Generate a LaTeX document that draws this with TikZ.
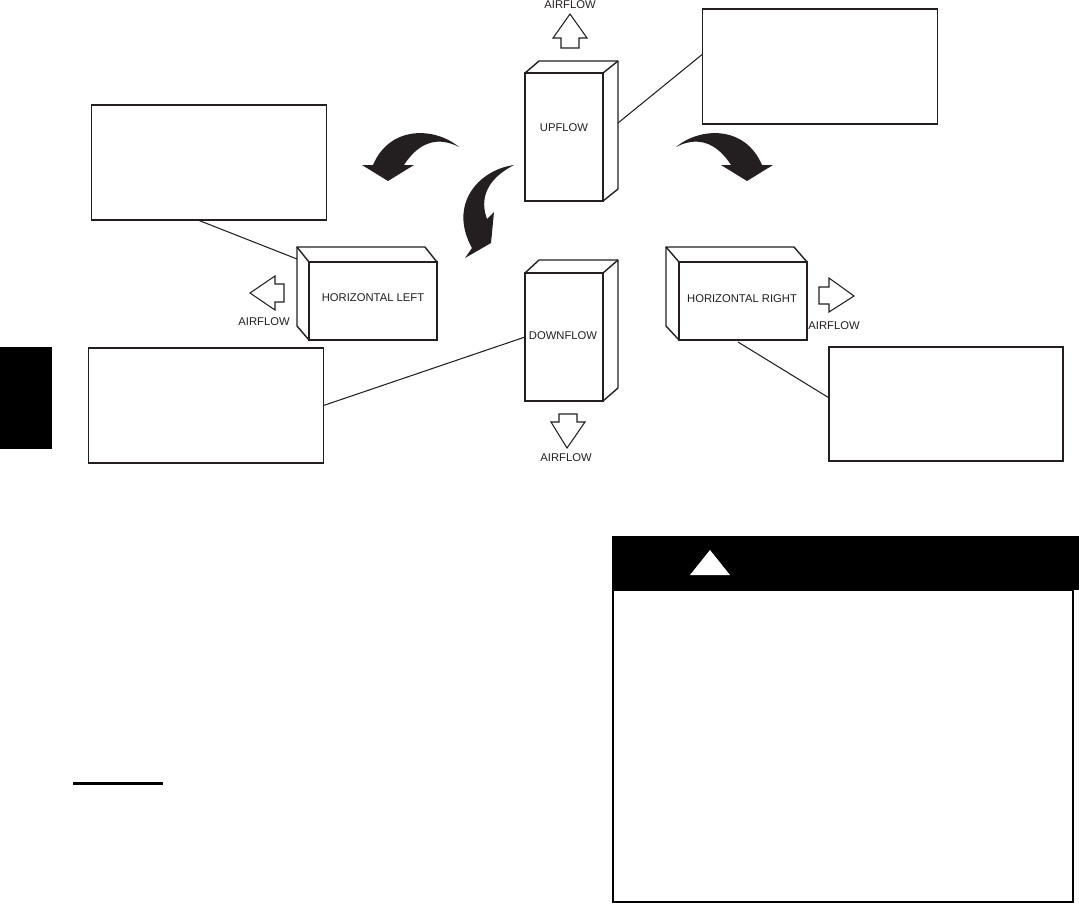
\documentclass[tikz,border=0pt]{standalone}
\usepackage{fontspec}
\setmainfont{Liberation Sans}
\definecolor{ink}{HTML}{231F20}
\begin{document}
\begin{tikzpicture}[
    x=0.02cm, y=-0.02cm,
    every node/.style={font=\fontsize{6.4}{7.5}\selectfont, text=ink, inner sep=0pt, outer sep=0pt},
    callout/.style={draw=ink, line width=0.7pt, minimum width=4.7cm, minimum height=2.3cm},
    upright/.style={draw=ink, line width=0.8pt, fill=white, minimum width=1.56cm, minimum height=2.56cm},
    lying/.style={draw=ink, line width=0.8pt, fill=white, minimum width=2.56cm, minimum height=1.56cm},
    casing/.style={draw=ink, line width=0.8pt, line join=round},
    airarrow/.style={draw=ink, line width=0.6pt, line join=miter},
    turn/.style={fill=ink},
    leader/.style={draw=ink, line width=0.6pt}
]
\useasboundingbox (0,0) rectangle (1079,904);

\fill[black] (0,347) rectangle (52,449);

\node[callout] (topcall) at (820,66.5) {};
\node[callout] (leftcall) at (209,162.5) {};
\node[callout] (downcall) at (206,405.5) {};
\node[callout, minimum width=4.68cm, minimum height=2.28cm] (rightcall) at (946,404) {};

\draw[casing] (525,73) -- (539,61) -- (618,61) -- (618,189) -- (603,201);
\draw[casing] (603,73) -- (618,61);
\node[upright] (upfront) at (564,137) {};
\node (uplabel) at (564,128) {UPFLOW};
\draw[casing] (525,273) -- (539,260) -- (618,260) -- (618,388) -- (603,401);
\draw[casing] (603,273) -- (618,260);
\node[upright] (downfront) at (564,337) {};
\node (downlabel) at (563,336) {DOWNFLOW};
\draw[casing] (309,262) -- (297,247) -- (425,247) -- (437,262);
\draw[casing] (297,247) -- (297,326) -- (309,340);
\node[lying] (leftfront) at (373,301) {};
\node (leftlabel) at (373,298) {HORIZONTAL LEFT};
\draw[casing] (679,262) -- (666,247) -- (794,247) -- (807,262);
\draw[casing] (666,247) -- (666,326) -- (679,340);
\node[lying] (rightfront) at (743,301) {};
\node (rightlabel) at (742,299) {HORIZONTAL RIGHT};

\coordinate (upedge) at (618,123);
\coordinate (leftedge) at (297,259);
\coordinate (rightedge) at (738,342);
\draw[leader] (upedge) -- (topcall.174);
\draw[leader] (leftedge) -- (leftcall.259);
\draw[leader] (downcall.east) -- (downfront.west);
\draw[leader] (rightedge) -- (rightcall.177.6);

\draw[airarrow] (570,14) -- (587,38) -- (579,38) -- (579,48) -- (561,48) -- (561,38) -- (553,38) -- cycle;
\node (upair) at (570,5) {AIRFLOW};
\draw[airarrow] (567,448) -- (585,422) -- (577,422) -- (577,414) -- (559,414) -- (559,422) -- (551,422) -- cycle;
\node (downair) at (566,458) {AIRFLOW};
\draw[airarrow] (250,293) -- (275,276) -- (275,284) -- (284,284) -- (284,302) -- (275,302) -- (275,310) -- cycle;
\node (leftair) at (264,322) {AIRFLOW};
\draw[airarrow] (854,296) -- (829,278) -- (829,287) -- (819,287) -- (819,304) -- (829,304) -- (829,312) -- cycle;
\node (rightair) at (834,326) {AIRFLOW};

\fill[turn] (676,147) .. controls (700,127) and (745,125) .. (762,165) -- (773,165) -- (747,181) -- (721,165) -- (731,165) .. controls (715,140) and (695,137) .. (676,147) -- cycle;
\fill[turn] (459,147) .. controls (435,127) and (390,125) .. (373,165) -- (362,165) -- (388,181) -- (414,165) -- (404,165) .. controls (420,140) and (440,137) .. (459,147) -- cycle;
\fill[turn] (514,165) .. controls (478,170) and (448,205) .. (472,248) -- (465,258) -- (491,243) -- (494,212) -- (487,219) .. controls (480,200) and (485,180) .. (514,165) -- cycle;

\draw[black, line width=1.7pt] (73,783) -- (163,783);

\draw[black, line width=0.9pt] (613,590) rectangle (1073,902);
\fill[black] (612,536) rectangle (1079,590);
\fill[white] (690,575) -- (730,575) -- (710,550) -- cycle;
\end{tikzpicture}
\end{document}
